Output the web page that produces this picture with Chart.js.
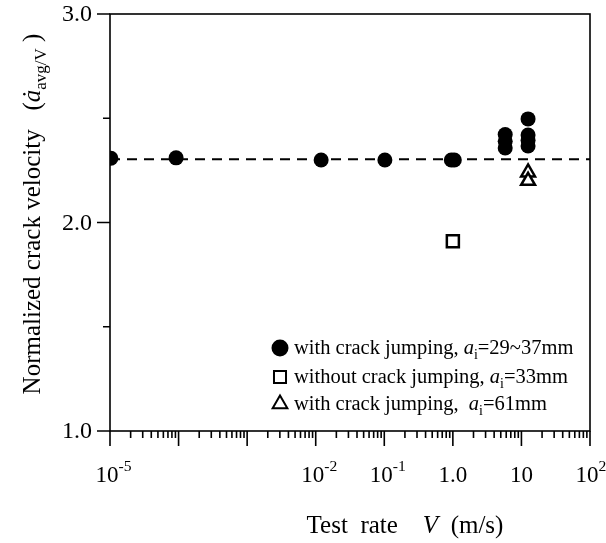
<!DOCTYPE html>
<html>
<head>
<meta charset="utf-8">
<script src="https://cdn.jsdelivr.net/npm/chart.js@4.4.0/dist/chart.umd.min.js"></script>
<style>
  body { margin: 0; background: #fff; }
</style>
</head>
<body>
<canvas id="myChart" width="606" height="543"></canvas>
<script>
// test rate V (m/s) against normalized crack velocity
var jumpRate = [1.03e-5, 9.2e-5, 0.012, 0.102, 0.95, 1.05, 5.8, 5.8, 5.8, 12.5, 12.5, 12.5, 12.5];
var jumpVel  = [2.308, 2.31, 2.30, 2.30, 2.30, 2.30, 2.422, 2.39, 2.357, 2.497, 2.42, 2.395, 2.367];
var noJumpRate = [1.0];
var noJumpVel  = [1.91];
var longRate = [12.5, 12.5];
var longVel  = [2.24, 2.20];
var meanRate = [1e-5, 1e2];
var meanVel  = [2.303, 2.303];

// axis ticks
var xDecades = [1e-5, 1e-4, 1e-3, 1e-2, 1e-1, 1, 10, 100];
var xTickValues = [1e-5, 1e-2, 1e-1, 1, 10, 100];
var xTickText = ['10', '10', '10', '1.0', '10', '10'];
var xTickExp  = ['-5', '-2', '-1', '', '', '2'];
var yTickValues = [1.0, 2.0, 3.0];
var yMinorValues = [1.5, 2.5];

var legendText = [
  [{t: 'with crack jumping, '}, {t: 'a', i: true}, {t: 'i', sub: true}, {t: '=29~37mm'}],
  [{t: 'without crack jumping, '}, {t: 'a', i: true}, {t: 'i', sub: true}, {t: '=33mm'}],
  [{t: 'with crack jumping,  '}, {t: 'a', i: true}, {t: 'i', sub: true}, {t: '=61mm'}]
];

var SERIF = '"Liberation Serif", "Times New Roman", serif';

function toPoints(xs, ys) {
  return xs.map(function (x, i) { return {x: x, y: ys[i]}; });
}

function setFont(ctx, size, italic) {
  ctx.font = (italic ? 'italic ' : '') + size + 'px ' + SERIF;
}

// width of a run list (text with italic/sub/sup pieces)
function runsWidth(ctx, runs, size) {
  var w = 0;
  runs.forEach(function (r) {
    var s = (r.sub || r.sup) ? size * 0.68 : size;
    setFont(ctx, s, r.i);
    w += ctx.measureText(r.t).width;
  });
  return w;
}

function drawRuns(ctx, runs, x, y, size) {
  ctx.textAlign = 'left';
  ctx.textBaseline = 'alphabetic';
  runs.forEach(function (r) {
    var s = (r.sub || r.sup) ? size * 0.68 : size;
    var dy = r.sub ? size * 0.25 : (r.sup ? -size * 0.5 : 0);
    setFont(ctx, s, r.i);
    ctx.fillText(r.t, x, y + dy);
    x += ctx.measureText(r.t).width;
  });
  return x;
}

var framePlugin = {
  id: 'frame',
  afterDraw: function (chart) {
    var ctx = chart.ctx;
    var xs = chart.scales.x, ys = chart.scales.y;
    var a = chart.chartArea;
    ctx.save();
    ctx.strokeStyle = '#000';
    ctx.fillStyle = '#000';
    ctx.lineWidth = 1.6;

    // plot box
    ctx.strokeRect(a.left, a.top, a.right - a.left, a.bottom - a.top);

    // y ticks, pointing out to the left
    ctx.beginPath();
    yTickValues.forEach(function (v) {
      var py = ys.getPixelForValue(v);
      ctx.moveTo(a.left - 13, py); ctx.lineTo(a.left, py);
    });
    yMinorValues.forEach(function (v) {
      var py = ys.getPixelForValue(v);
      ctx.moveTo(a.left - 7, py); ctx.lineTo(a.left, py);
    });
    ctx.stroke();

    // x ticks: decades long, 2..9 short
    ctx.beginPath();
    xDecades.forEach(function (d, k) {
      var px = xs.getPixelForValue(d);
      ctx.moveTo(px, a.bottom); ctx.lineTo(px, a.bottom + 15);
      if (k < xDecades.length - 1) {
        for (var m = 2; m <= 9; m++) {
          var mx = xs.getPixelForValue(d * m);
          ctx.moveTo(mx, a.bottom); ctx.lineTo(mx, a.bottom + 7);
        }
      }
    });
    ctx.stroke();

    // y tick labels
    setFont(ctx, 24, false);
    ctx.textAlign = 'right';
    ctx.textBaseline = 'middle';
    yTickValues.forEach(function (v) {
      ctx.fillText(v.toFixed(1), a.left - 18, ys.getPixelForValue(v) + 1);
    });

    // x tick labels with exponents
    xTickValues.forEach(function (v, k) {
      var px = xs.getPixelForValue(v);
      setFont(ctx, 23, false);
      var bw = ctx.measureText(xTickText[k]).width;
      var bx = xTickExp[k] ? px - bw / 2 - 3 : px - bw / 2;
      drawRuns(ctx, [{t: xTickText[k]}, {t: xTickExp[k], sup: true}], bx, a.bottom + 51, 23);
    });

    // x axis title
    var xt = [{t: 'Test  rate    '}, {t: 'V', i: true}, {t: '  (m/s)'}];
    var xw = runsWidth(ctx, xt, 25);
    drawRuns(ctx, xt, 405 - xw / 2, 533, 25);

    // y axis title, rotated
    ctx.save();
    ctx.translate(40, 214);
    ctx.rotate(-Math.PI / 2);
    var yt = [{t: 'Normalized crack velocity   ('}, {t: '\u0227', i: true}, {t: 'avg/V', sub: true}, {t: ' )'}];
    var yw = runsWidth(ctx, yt, 25);
    drawRuns(ctx, yt, -yw / 2, 0, 25);
    ctx.restore();

    // legend
    var styles = [
      {pointStyle: 'circle', radius: 7.5, fill: '#000'},
      {pointStyle: 'rect', radius: 8.5, fill: '#fff'},
      {pointStyle: 'triangle', radius: 8.5, fill: '#fff'}
    ];
    var rowsY = [348, 377, 404];
    styles.forEach(function (s, k) {
      ctx.fillStyle = s.fill;
      ctx.strokeStyle = '#000';
      ctx.lineWidth = 2;
      Chart.helpers.drawPoint(ctx, {pointStyle: s.pointStyle, radius: s.radius, borderWidth: 2, rotation: 0}, 280, rowsY[k]);
      ctx.fillStyle = '#000';
      drawRuns(ctx, legendText[k], 294, rowsY[k] + 6, 20.5);
    });
    ctx.restore();
  }
};

new Chart(document.getElementById('myChart').getContext('2d'), {
  type: 'scatter',
  data: {
    datasets: [
      {
        label: 'mean',
        type: 'line',
        data: toPoints(meanRate, meanVel),
        borderColor: '#000',
        borderWidth: 2,
        borderDash: [10, 7],
        pointRadius: 0,
        fill: false
      },
      {
        label: 'with crack jumping, ai=29~37mm',
        data: toPoints(jumpRate, jumpVel),
        pointStyle: 'circle',
        pointRadius: 7.5,
        backgroundColor: '#000',
        borderColor: '#000',
        borderWidth: 0
      },
      {
        label: 'without crack jumping, ai=33mm',
        data: toPoints(noJumpRate, noJumpVel),
        pointStyle: 'rect',
        pointRadius: 8.5,
        backgroundColor: '#fff',
        borderColor: '#000',
        borderWidth: 2.5
      },
      {
        label: 'with crack jumping, ai=61mm',
        data: toPoints(longRate, longVel),
        pointStyle: 'triangle',
        pointRadius: 8,
        backgroundColor: '#fff',
        borderColor: '#000',
        borderWidth: 2.5
      }
    ]
  },
  options: {
    responsive: false,
    animation: false,
    layout: { padding: { left: 110, right: 16, top: 14, bottom: 112 } },
    plugins: {
      legend: { display: false },
      tooltip: { enabled: false }
    },
    scales: {
      x: { type: 'logarithmic', min: 1e-5, max: 100, display: false },
      y: { type: 'linear', min: 1.0, max: 3.0, display: false }
    }
  },
  plugins: [framePlugin]
});
</script>
</body>
</html>
